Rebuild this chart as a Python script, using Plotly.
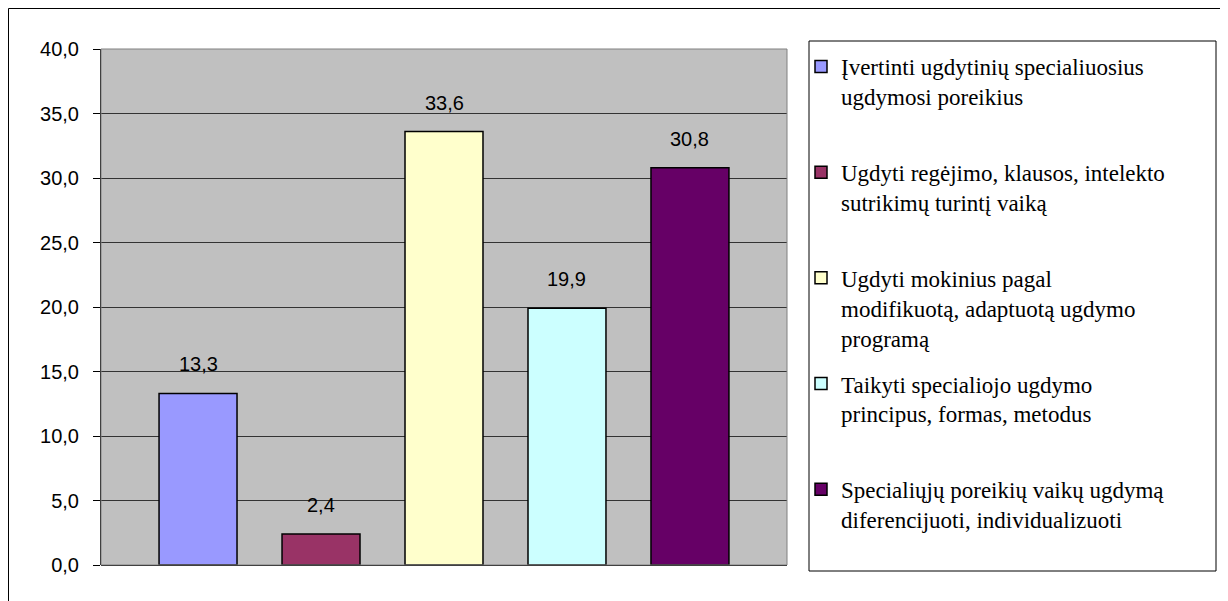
import plotly.graph_objects as go

# ---------------- data ----------------
categories = [
    "Įvertinti ugdytinių specialiuosius ugdymosi poreikius",
    "Ugdyti regėjimo, klausos, intelekto sutrikimų turintį vaiką",
    "Ugdyti mokinius pagal modifikuotą, adaptuotą ugdymo programą",
    "Taikyti specialiojo ugdymo principus, formas, metodus",
    "Specialiųjų poreikių vaikų ugdymą diferencijuoti, individualizuoti",
]
legend_labels = [
    "Įvertinti ugdytinių specialiuosius<br>ugdymosi poreikius<br> ",
    "Ugdyti regėjimo, klausos, intelekto<br>sutrikimų turintį vaiką<br> ",
    "Ugdyti mokinius pagal<br>modifikuotą, adaptuotą ugdymo<br>programą",
    "Taikyti specialiojo ugdymo<br>principus, formas, metodus<br> ",
    "Specialiųjų poreikių vaikų ugdymą<br>diferencijuoti, individualizuoti<br> ",
]
values = [13.3, 2.4, 33.6, 19.9, 30.8]
value_labels = ["13,3", "2,4", "33,6", "19,9", "30,8"]
y_ticks = [0, 5, 10, 15, 20, 25, 30, 35, 40]

# ---------------- styles ----------------
colors = ["#9999FF", "#993366", "#FFFFCC", "#CCFFFF", "#660066"]
# the page has an 8px body margin, so the figure is drawn from page (8, 8)
W, H = 1220, 593
OFF = 8
PL, PR, PT, PB = 101 - OFF, 787 - OFF, 49 - OFF, 565 - OFF  # plot area (figure px)


def px_x(p):
    return (p - OFF - PL) / (PR - PL)


def px_y(p):
    return (PB - (p - OFF)) / (PB - PT)


fig = go.Figure()
for i, cat in enumerate(categories):
    fig.add_trace(go.Bar(
        x=[cat], y=[values[i]], name=legend_labels[i],
        legendgroup=f"g{i}",
        width=0.634,
        marker=dict(color=colors[i], line=dict(color="black", width=1.5)),
        hoverinfo="skip",
    ))
    fig.add_annotation(
        x=cat, y=values[i], text=value_labels[i], showarrow=False,
        xref="x", yref="y", yanchor="bottom", yshift=16,
        font=dict(family="Liberation Sans, Arial", size=20, color="black"),
    )

fig.update_layout(
    width=W, height=H, autosize=False,
    margin=dict(l=PL, r=W - PR, t=PT, b=H - PB, pad=0),
    paper_bgcolor="white", plot_bgcolor="#C0C0C0",
    barmode="overlay", separators=", ",
    showlegend=True,
    legend=dict(
        x=px_x(801), y=px_y(45), xanchor="left", yanchor="top",
        valign="top", bgcolor="rgba(0,0,0,0)", borderwidth=0,
        tracegroupgap=13, maxheight=1000,
        font=dict(family="Liberation Serif, Times New Roman", size=23, color="black"),
    ),
    xaxis=dict(
        type="category", range=[-0.789, 4.789], showticklabels=False,
        ticks="", showgrid=False, zeroline=False, showline=False,
    ),
    yaxis=dict(
        range=[0, 40], tickvals=y_ticks, tickformat=".1f",
        ticks="outside", ticklen=7, tickcolor="black", tickwidth=1,
        ticklabelstandoff=10,
        showline=True, linecolor="black", linewidth=1,
        showgrid=True, gridcolor="#333333", gridwidth=1,
        zeroline=True, zerolinecolor="black", zerolinewidth=1,
        tickfont=dict(family="Liberation Sans, Arial", size=20, color="black"),
    ),
    shapes=[
        # plot area border
        dict(type="rect", xref="paper", yref="paper", x0=0, x1=1, y0=0, y1=1,
             line=dict(color="#808080", width=1), layer="above"),
        # legend box
        dict(type="rect", xref="paper", yref="paper",
             x0=px_x(809), x1=px_x(1216), y0=px_y(571), y1=px_y(41),
             line=dict(color="black", width=1)),
        # outer chart frame
        dict(type="rect", xref="paper", yref="paper",
             x0=px_x(8.5), x1=px_x(1223), y0=px_y(640), y1=px_y(8.5),
             line=dict(color="black", width=1)),
    ],
)

fig.write_html("out.html")
